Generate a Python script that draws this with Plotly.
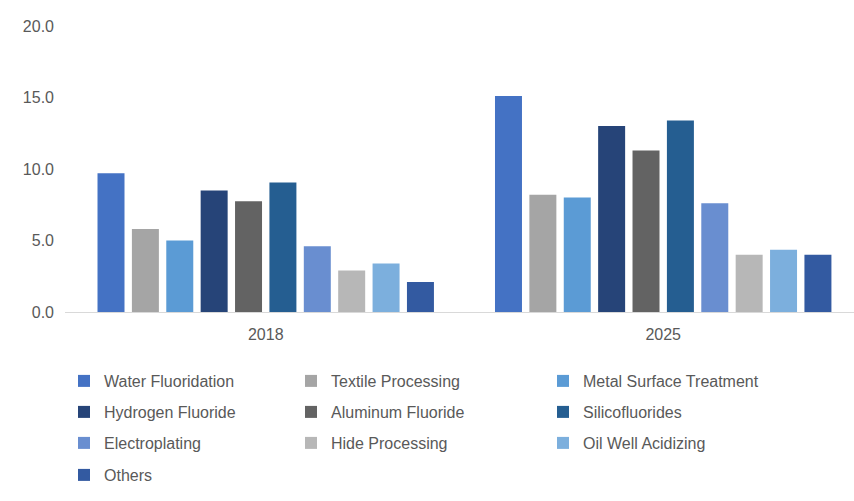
import plotly.graph_objects as go

years = ["2018", "2025"]
segments = [
    "Water Fluoridation", "Textile Processing", "Metal Surface Treatment",
    "Hydrogen Fluoride", "Aluminum Fluoride", "Silicofluorides",
    "Electroplating", "Hide Processing", "Oil Well Acidizing", "Others",
]
water_fluoridation = [9.7, 15.1]
textile_processing = [5.8, 8.2]
metal_surface_treatment = [5.0, 8.0]
hydrogen_fluoride = [8.5, 13.0]
aluminum_fluoride = [7.75, 11.3]
silicofluorides = [9.05, 13.4]
electroplating = [4.6, 7.6]
hide_processing = [2.9, 4.0]
oil_well_acidizing = [3.4, 4.35]
others = [2.1, 4.0]
y_ticks = [0, 5, 10, 15, 20]

values = [water_fluoridation, textile_processing, metal_surface_treatment,
          hydrogen_fluoride, aluminum_fluoride, silicofluorides,
          electroplating, hide_processing, oil_well_acidizing, others]
colors = ["#4472C4", "#A5A5A5", "#5B9BD5", "#264478", "#636363",
          "#255E91", "#698ED0", "#B7B7B7", "#7CAFDD", "#335AA1"]

W, H = 854, 501
FONT = "Liberation Sans, Arial, sans-serif"
GRAY = "#595959"

# legend layout: 3 columns, 31 px rows (pixel positions)
col_x = [64, 291, 543]
row_y = [381, 412, 443, 475]

fig = go.Figure()
legend_layouts = {}
for i, (name, vals, col) in enumerate(zip(segments, values, colors)):
    lid = "legend" if i == 0 else f"legend{i + 1}"
    fig.add_trace(go.Bar(name=name, x=years, y=vals, marker_color=col,
                         marker_line_width=0, legend=lid))
    r, c = divmod(i, 3)
    legend_layouts[lid] = dict(
        xref="container", yref="container",
        x=col_x[c] / W, y=1 - row_y[r] / H,
        xanchor="left", yanchor="middle",
        font=dict(family=FONT, size=16, color=GRAY),
        bgcolor="rgba(0,0,0,0)", itemwidth=30,
    )

fig.update_layout(
    width=W, height=H,
    margin=dict(l=65, r=0, t=26, b=189, autoexpand=False),
    paper_bgcolor="white", plot_bgcolor="white",
    barmode="group", bargap=0.135, bargroupgap=0.215,
    showlegend=True,
    font=dict(family=FONT, size=16, color=GRAY),
    xaxis=dict(type="category", range=[-0.505, 1.48], showline=True,
               linecolor="#D9D9D9", linewidth=1, showgrid=False, ticks="",
               automargin=False, ticklabelstandoff=8,
               tickfont=dict(family=FONT, size=16, color=GRAY)),
    yaxis=dict(range=[0, 20], tickvals=y_ticks, tickformat=".1f",
               showgrid=False, zeroline=False, showline=False, ticks="",
               ticklabelstandoff=10, automargin=False,
               tickfont=dict(family=FONT, size=16, color=GRAY)),
    **legend_layouts,
)

fig.write_html("out.html")
